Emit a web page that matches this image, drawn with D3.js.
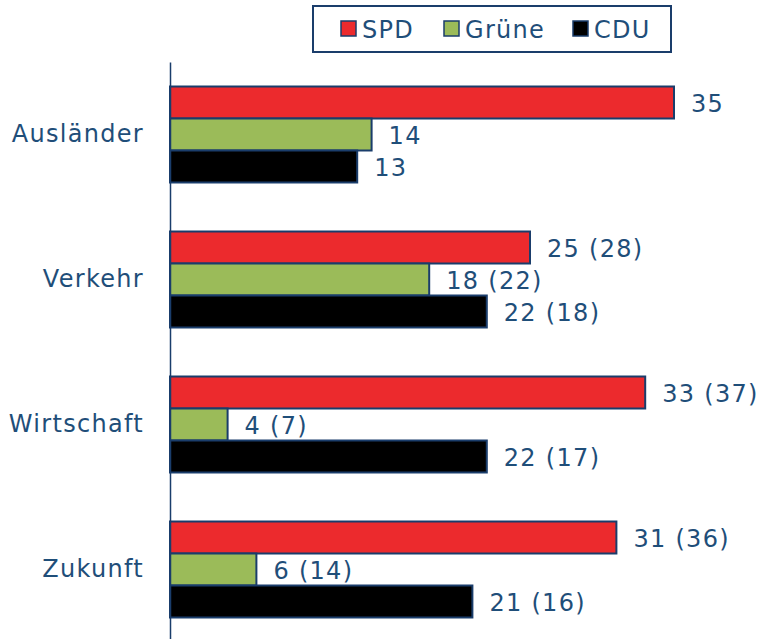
<!DOCTYPE html>
<html>
<head>
<meta charset="utf-8">
<script src="https://cdn.jsdelivr.net/npm/d3@7"></script>
<style>
  body { margin: 0; background: #fff; }
  text { font-family: "DejaVu Sans", sans-serif; fill: #1F4E79; letter-spacing: 1.3px; }
</style>
</head>
<body>
<div id="chart"></div>
<script>
const categories = ["Ausländer", "Verkehr", "Wirtschaft", "Zukunft"];
const parties = ["SPD", "Grüne", "CDU"];
const spd = [35, 25, 33, 31];
const gruene = [14, 18, 4, 6];
const cdu = [13, 22, 22, 21];
const spdPrev = [null, 28, 37, 36];
const gruenePrev = [null, 22, 7, 14];
const cduPrev = [null, 18, 17, 16];
const colors = ["#EC2A2D", "#9BBB59", "#000000"];

const width = 761, height = 639;
const plotLeft = 170, plotTop = 62;

const series = [spd, gruene, cdu];
const prevs = [spdPrev, gruenePrev, cduPrev];

const x = d3.scaleLinear().domain([0, 40]).range([plotLeft, plotLeft + 576]);
const y = d3.scaleBand().domain(categories).range([plotTop, plotTop + 580]).paddingInner(0.338).paddingOuter(0.169);
const yInner = d3.scaleBand().domain(parties).range([0, y.bandwidth()]);

const svg = d3.select("#chart").append("svg")
    .attr("width", width)
    .attr("height", height);

// bars
categories.forEach(function(cat, i) {
    const g = svg.append("g").attr("transform", "translate(0," + y(cat) + ")");
    parties.forEach(function(p, j) {
        const v = series[j][i];
        g.append("rect")
            .attr("x", x(0))
            .attr("y", yInner(p))
            .attr("width", x(v) - x(0))
            .attr("height", yInner.bandwidth())
            .attr("fill", colors[j])
            .attr("stroke", "#1A3D6B")
            .attr("stroke-width", 2);
        const prev = prevs[j][i];
        g.append("text")
            .attr("x", x(v) + 17)
            .attr("y", yInner(p) + yInner.bandwidth() / 2 + 1)
            .attr("dy", "0.36em")
            .attr("font-size", 24)
            .text(prev == null ? v : v + " (" + prev + ")");
    });
});

// axis
const yAxis = svg.append("g")
    .attr("transform", "translate(" + x(0) + ",0)")
    .call(d3.axisLeft(y).tickSize(0).tickPadding(26));
yAxis.select(".domain").attr("stroke", "#1A3D6B").attr("stroke-width", 1.5);
yAxis.selectAll("text")
    .attr("font-size", 24)
    .attr("fill", "#1F4E79")
    .style("font-family", "DejaVu Sans, sans-serif");

// legend
const legend = svg.append("g");
legend.append("rect")
    .attr("x", 313).attr("y", 6)
    .attr("width", 358).attr("height", 46)
    .attr("fill", "#fff")
    .attr("stroke", "#1A3D6B")
    .attr("stroke-width", 2);
const legendX = [341, 444, 573];
parties.forEach(function(p, j) {
    legend.append("rect")
        .attr("x", legendX[j]).attr("y", 21)
        .attr("width", 15).attr("height", 15)
        .attr("fill", colors[j])
        .attr("stroke", "#1A3D6B")
        .attr("stroke-width", 1.5);
    legend.append("text")
        .attr("x", legendX[j] + 21)
        .attr("y", 29)
        .attr("dy", "0.36em")
        .attr("font-size", 24)
        .text(p);
});
</script>
</body>
</html>
